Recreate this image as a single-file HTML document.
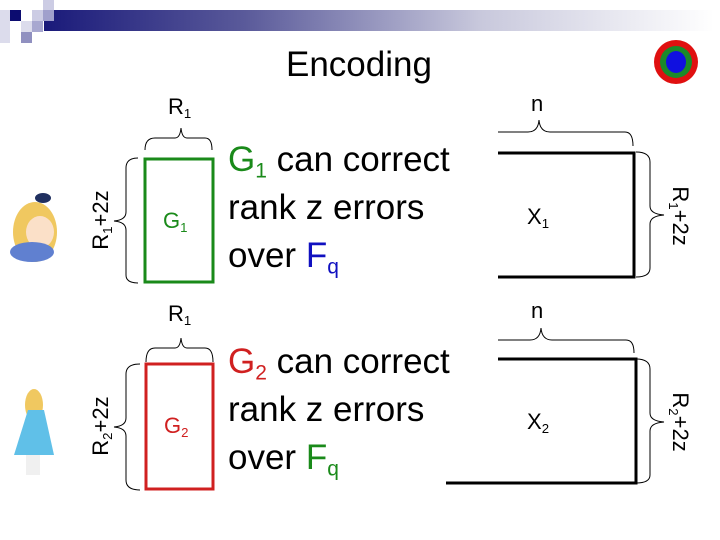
<!DOCTYPE html><html><head><style>
body{margin:0;width:720px;height:540px;background:#fff;overflow:hidden;position:relative;font-family:"Liberation Sans",sans-serif}
.a{position:absolute}
.t{position:absolute;font-size:35px;color:#000;line-height:1;white-space:nowrap}
sub{font-size:60%;vertical-align:-0.3em}
.lb{position:absolute;font-size:22px;line-height:1;white-space:nowrap}
</style></head><body>
<div class="a" style="left:44px;top:10px;width:670px;height:21px;background:linear-gradient(90deg,#1a1a7a,#5a5a9a 30%,#c8c8dc 65%,#fff)"></div>
<div class="a" style="left:0;top:10px;width:10px;height:33px;background:#dcdcec"></div>
<div class="a" style="left:10px;top:10px;width:11px;height:11px;background:#0c0c70"></div>
<div class="a" style="left:32px;top:10px;width:11px;height:11px;background:#ccccE4"></div>
<div class="a" style="left:43px;top:0;width:11px;height:10px;background:#ccccE4"></div>
<div class="a" style="left:43px;top:10px;width:11px;height:11px;background:#a0a0cc"></div>
<div class="a" style="left:21px;top:21px;width:11px;height:11px;background:#dcdcec"></div>
<div class="a" style="left:32px;top:21px;width:11px;height:11px;background:#a8a8d0"></div>
<div class="a" style="left:21px;top:32px;width:11px;height:11px;background:#9090c0"></div>
<div class="t" style="left:286px;top:47px;font-size:35px">Encoding</div>
<svg class="a" style="left:0;top:0" width="720" height="540">
<ellipse cx="676" cy="62" rx="22" ry="22" fill="#e01010"/>
<ellipse cx="676" cy="62" rx="16" ry="16" fill="#1a8a2a"/>
<ellipse cx="676" cy="62" rx="10" ry="11" fill="#1010e0"/>
<g fill="none" stroke="#000" stroke-width="1">
<path d="M145,150 Q145,138 155,138 L175,138 Q180,138 181,128 Q182,138 187,138 L205,138 Q212,138 212,150"/>
<path d="M498,132 L528,132 Q538,132 539,120 Q540,132 550,132 L625,132 Q633,132 633,146"/>
<path d="M138,158 Q126,158 126,168 L126,212 Q126,220 114,221 Q126,222 126,230 L126,275 Q126,283 138,283"/>
<path d="M636,152 Q650,152 650,162 L650,206 Q650,214 664,215 Q650,216 650,224 L650,268 Q650,277 636,277"/>
<path d="M146,362 Q146,348 155,348 L175,348 Q180,348 181,338 Q182,348 187,348 L205,348 Q213,348 213,362"/>
<path d="M498,340 L530,340 Q540,340 541,328 Q542,340 552,340 L626,340 Q634,340 634,353"/>
<path d="M140,364 Q126,364 126,374 L126,418 Q126,426 114,427 Q126,428 126,436 L126,480 Q126,490 140,490"/>
<path d="M636,359 Q650,359 650,369 L650,413 Q650,421 664,422 Q650,423 650,431 L650,475 Q650,483 636,483"/>
</g>
<rect x="145" y="159" width="68" height="123" fill="none" stroke="#1a8a1a" stroke-width="3"/>
<rect x="146" y="364" width="67" height="125" fill="none" stroke="#d02020" stroke-width="3"/>
<path d="M498,153 L634,153 L634,277 L498,277" fill="none" stroke="#000" stroke-width="3"/>
<path d="M498,359 L636,359 L636,483 L446,483" fill="none" stroke="#000" stroke-width="3"/>
<g>
<ellipse cx="35" cy="232" rx="22" ry="30" fill="#f0c860"/>
<ellipse cx="40" cy="232" rx="14" ry="16" fill="#fbe0c8"/>
<ellipse cx="32" cy="252" rx="22" ry="10" fill="#6080d0"/>
<ellipse cx="43" cy="198" rx="8" ry="5" fill="#203060"/>
<ellipse cx="34" cy="405" rx="9" ry="16" fill="#f0c860"/>
<path d="M28,410 L44,410 L54,455 L14,455 Z" fill="#60c0e8"/>
<rect x="26" y="455" width="14" height="20" fill="#f0f0f0"/>
</g>
</svg>
<div class="lb" style="left:168px;top:96px">R<sub>1</sub></div>
<div class="lb" style="left:531px;top:93px">n</div>
<div class="lb" style="left:168px;top:303px">R<sub>1</sub></div>
<div class="lb" style="left:531px;top:300px">n</div>
<div class="lb" style="left:67px;top:208px;transform:rotate(-90deg);transform-origin:center;width:70px;text-align:center">R<sub>1</sub>+2z</div>
<div class="lb" style="left:67px;top:414px;transform:rotate(-90deg);width:70px;text-align:center">R<sub>2</sub>+2z</div>
<div class="lb" style="left:644px;top:204px;transform:rotate(90deg);width:70px;text-align:center">R<sub>1</sub>+2z</div>
<div class="lb" style="left:644px;top:410px;transform:rotate(90deg);width:70px;text-align:center">R<sub>2</sub>+2z</div>
<div class="lb" style="left:163px;top:210px;color:#1a8a1a">G<sub>1</sub></div>
<div class="lb" style="left:164px;top:415px;color:#d02020">G<sub>2</sub></div>
<div class="lb" style="left:527px;top:206px">X<sub>1</sub></div>
<div class="lb" style="left:527px;top:411px">X<sub>2</sub></div>
<div class="t" style="left:228px;top:142px"><span style="color:#1a8a1a">G<sub>1</sub></span> can correct</div>
<div class="t" style="left:228px;top:190px">rank z errors</div>
<div class="t" style="left:228px;top:238px">over <span style="color:#1010c0">F<sub>q</sub></span></div>
<div class="t" style="left:228px;top:344px"><span style="color:#d02020">G<sub>2</sub></span> can correct</div>
<div class="t" style="left:228px;top:392px">rank z errors</div>
<div class="t" style="left:228px;top:440px">over <span style="color:#1a8a1a">F<sub>q</sub></span></div>
</body></html>
